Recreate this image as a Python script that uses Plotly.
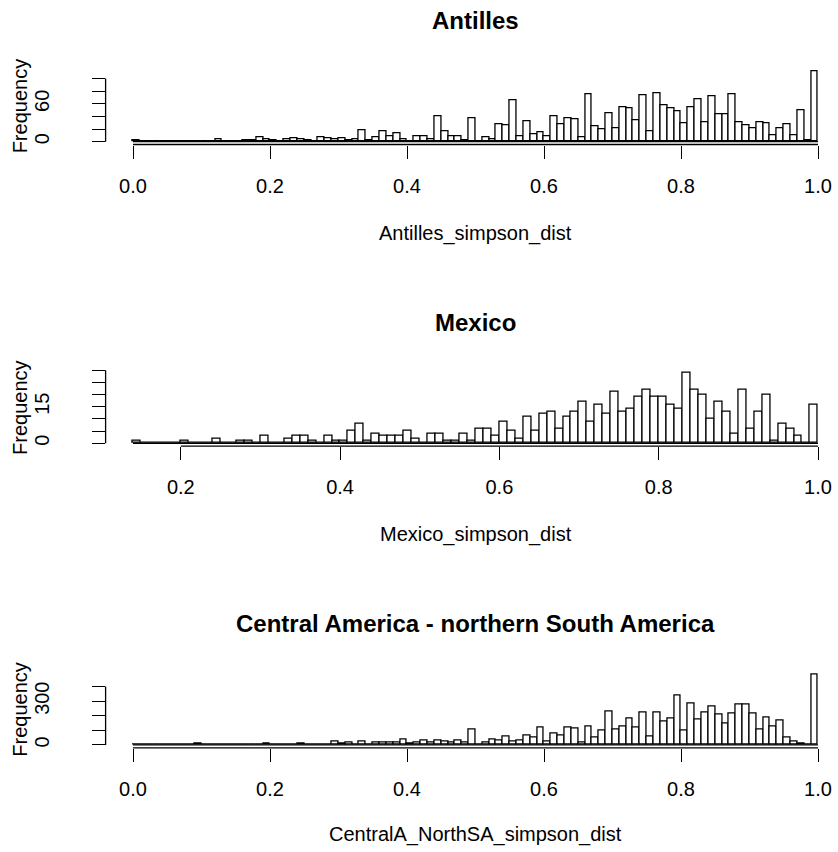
import plotly.graph_objects as go

# ---- histogram counts (bins of width 0.01) ----
bin_width = 0.01

antilles_start = 0.00
antilles_counts = [
    3, 0, 1, 0, 0, 0, 0, 1, 0, 1,
    0, 1, 4, 0, 1, 1, 2, 3, 7, 4,
    2, 0, 4, 5, 4, 3, 0, 7, 6, 4,
    5, 2, 4, 18, 2, 7, 16, 9, 13, 4,
    1, 9, 9, 4, 40, 16, 9, 9, 3, 37,
    1, 7, 4, 28, 26, 65, 8, 33, 12, 15,
    8, 41, 28, 37, 35, 7, 75, 24, 19, 45,
    22, 55, 53, 34, 73, 16, 77, 58, 53, 48,
    30, 55, 67, 31, 72, 44, 43, 75, 31, 26,
    21, 31, 29, 11, 21, 27, 11, 50, 3, 112,
]

mexico_start = 0.14
mexico_counts = [
    1, 0, 0, 0, 0, 0, 1, 0, 0, 0,
    2, 0, 0, 1, 1, 0, 3, 0, 0, 2,
    3, 3, 1, 0, 3, 1, 1, 5, 8, 1,
    4, 3, 3, 3, 5, 2, 0, 4, 4, 1,
    1, 4, 1, 6, 6, 3, 9, 5, 2, 11,
    5, 12, 13, 6, 11, 13, 17, 9, 16, 12,
    21, 13, 14, 19, 22, 19, 19, 16, 14, 29,
    22, 20, 10, 17, 13, 4, 22, 6, 13, 20,
    1, 8, 6, 3, 0, 16,
]

central_start = 0.00
central_counts = [
    2, 2, 2, 2, 2, 2, 3, 2, 3, 8,
    3, 3, 3, 4, 3, 6, 4, 4, 5, 7,
    4, 5, 4, 5, 7, 5, 5, 6, 5, 27,
    7, 14, 5, 27, 5, 16, 14, 14, 20, 36,
    7, 20, 30, 18, 34, 25, 16, 34, 14, 107,
    5, 16, 39, 30, 57, 25, 34, 64, 50, 119,
    23, 82, 66, 119, 114, 16, 125, 50, 96, 226,
    103, 125, 180, 119, 223, 57, 223, 164, 182, 342,
    100, 285, 176, 221, 264, 210, 148, 214, 274, 274,
    217, 103, 187, 130, 169, 48, 27, 7, 2, 484,
]

# ---- titles and tick labels ----
titles = ["Antilles", "Mexico", "Central America - northern South America"]
x_titles = ["Antilles_simpson_dist", "Mexico_simpson_dist", "CentralA_NorthSA_simpson_dist"]

antilles_xticks = [0.0, 0.2, 0.4, 0.6, 0.8, 1.0]
mexico_xticks = [0.2, 0.4, 0.6, 0.8, 1.0]
central_xticks = [0.0, 0.2, 0.4, 0.6, 0.8, 1.0]

antilles_yticks = [0, 20, 40, 60, 80, 100]
antilles_ylabels = ["0", "", "", "60", "", ""]
mexico_yticks = [0, 5, 10, 15, 20, 25, 30]
mexico_ylabels = ["0", "", "", "15", "", "", ""]
central_yticks = [0, 100, 200, 300, 400]
central_ylabels = ["0", "", "", "300", ""]

# ---- page geometry (pixels) ----
W, H = 838, 852
FONT = "Liberation Sans, Arial, Helvetica, sans-serif"
LW = 1.3
plot_left = 105.6
plot_width = 739.8          # the plot region runs slightly past the page edge
plot_height = 76.3
plot_bottoms = [144.5, 446.1, 747.8]
title_y = [20, 322, 623]
xtitle_y = [233, 534, 834]

panels = [
    (antilles_start, antilles_counts, antilles_xticks, antilles_yticks, antilles_ylabels),
    (mexico_start, mexico_counts, mexico_xticks, mexico_yticks, mexico_ylabels),
    (central_start, central_counts, central_xticks, central_yticks, central_ylabels),
]

fig = go.Figure()
shapes = []
annotations = []
layout_axes = {}

for k, (start, counts, xt, yt, yl) in enumerate(panels):
    idx = "" if k == 0 else str(k + 1)
    xa, ya = "x" + idx, "y" + idx
    n = len(counts)
    edges = [round(start + i * bin_width, 4) for i in range(n + 1)]
    centers = [(edges[i] + edges[i + 1]) / 2 for i in range(n)]

    fig.add_trace(go.Bar(
        x=centers, y=counts, width=[bin_width] * n,
        marker=dict(color="white", line=dict(color="black", width=LW)),
        xaxis=xa, yaxis=ya, showlegend=False, hoverinfo="x+y",
    ))

    # R-style extended ranges (4% on each side)
    x0, x1 = edges[0], edges[-1]
    dx = x1 - x0
    lo, hi = x0 - 0.04 * dx, x1 + 0.04 * dx
    vis_hi = lo + (W - plot_left) / plot_width * (hi - lo)
    ymax = max(counts)
    ylo, yhi = -0.04 * ymax, 1.04 * ymax

    bottom = plot_bottoms[k]
    ydom = [1 - bottom / H, 1 - (bottom - plot_height) / H]

    layout_axes["xaxis" + idx] = dict(
        domain=[plot_left / W, 1.0], range=[lo, vis_hi], anchor=ya,
        showgrid=False, zeroline=False, showline=False,
        tickmode="array", tickvals=xt, ticktext=[f"{v:.1f}" for v in xt],
        ticks="outside", ticklen=13, tickwidth=LW, tickcolor="black",
        tickfont=dict(family=FONT, size=20, color="black"),
        ticklabelstandoff=10, fixedrange=True,
    )
    layout_axes["yaxis" + idx] = dict(
        domain=ydom, range=[ylo, yhi], anchor=xa,
        showgrid=False, zeroline=False, showline=False,
        tickmode="array", tickvals=yt, ticktext=yl, tickangle=-90,
        ticks="outside", ticklen=13, tickwidth=LW, tickcolor="black",
        tickfont=dict(family=FONT, size=20, color="black"),
        ticklabelstandoff=35, fixedrange=True,
    )

    # axis lines spanning first to last tick, and the bar baseline
    shapes.append(dict(type="line", xref=xa, yref=ya + " domain",
                       x0=xt[0], x1=xt[-1], y0=0, y1=0,
                       line=dict(color="black", width=LW)))
    shapes.append(dict(type="line", xref=xa + " domain", yref=ya,
                       x0=0, x1=0, y0=yt[0], y1=yt[-1],
                       line=dict(color="black", width=LW)))
    shapes.append(dict(type="line", xref=xa, yref=ya,
                       x0=x0, x1=x1, y0=0, y1=0,
                       line=dict(color="black", width=LW)))

    cx = (plot_left + plot_width / 2) / W
    annotations.append(dict(text="<b>" + titles[k] + "</b>", xref="paper", yref="paper",
                            x=cx, y=1 - title_y[k] / H, xanchor="center", yanchor="middle",
                            showarrow=False, font=dict(family=FONT, size=24, color="black")))
    annotations.append(dict(text=x_titles[k], xref="paper", yref="paper",
                            x=cx, y=1 - xtitle_y[k] / H, xanchor="center", yanchor="middle",
                            showarrow=False, font=dict(family=FONT, size=20, color="black")))
    annotations.append(dict(text="Frequency", xref="paper", yref="paper",
                            x=20 / W, y=1 - (bottom - plot_height / 2) / H,
                            xanchor="center", yanchor="middle", textangle=-90,
                            showarrow=False, font=dict(family=FONT, size=20, color="black")))

fig.update_layout(
    width=W, height=H, margin=dict(l=0, r=0, t=0, b=0),
    paper_bgcolor="white", plot_bgcolor="white",
    bargap=0, shapes=shapes, annotations=annotations,
    **layout_axes,
)

fig.write_html("out.html", config={"displayModeBar": False})
